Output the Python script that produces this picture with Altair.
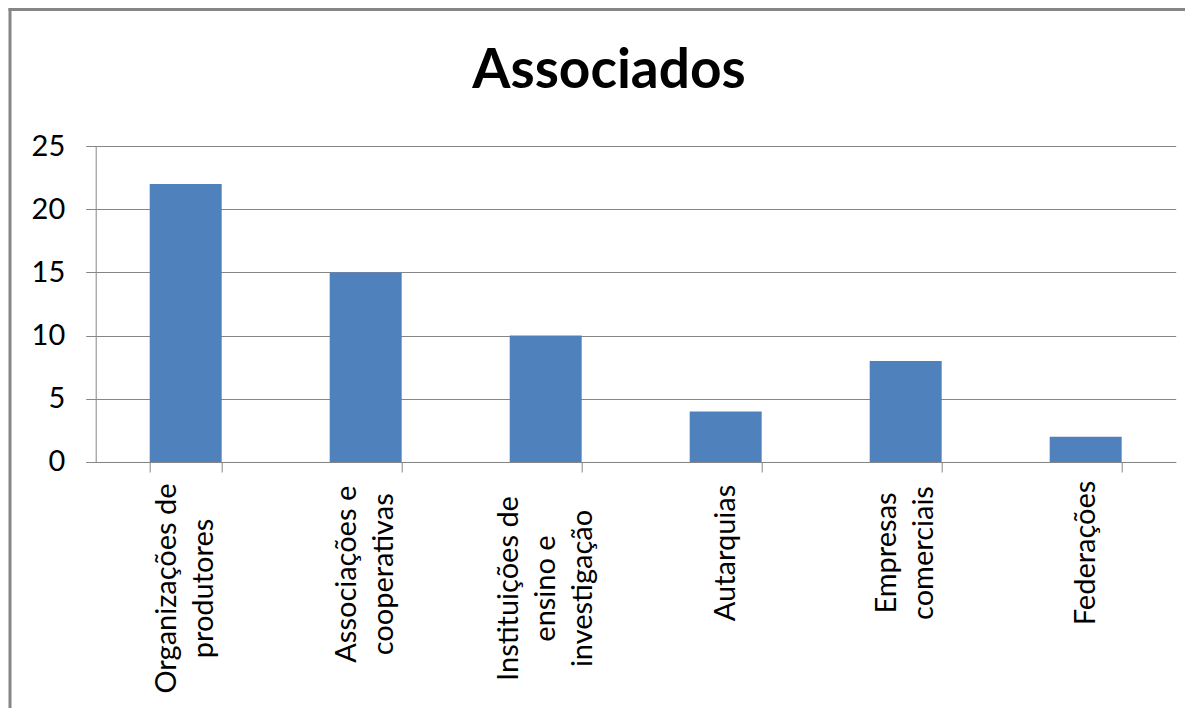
import altair as alt
import pandas as pd

# ---------------- data ----------------
title_text = "Associados"
categories = [
    "Organizações de produtores",
    "Associações e cooperativas",
    "Instituições de ensino e investigação",
    "Autarquias",
    "Empresas comerciais",
    "Federações",
]
label_lines = [
    ["Organizações de", "produtores"],
    ["Associações e", "cooperativas"],
    ["Instituições de", "ensino e", "investigação"],
    ["Autarquias"],
    ["Empresas", "comerciais"],
    ["Federações"],
]
values = [22, 15, 10, 4, 8, 2]
y_ticks = [0, 5, 10, 15, 20, 25]

# ---------------- style ----------------
W, H = 1080, 316
PAD_L, PAD_T, PAD_R, PAD_B = 87.7, 138, 9, 246
FONT = "Lato"
GRAY = "#868686"
BAR = "#4F81BD"
LH = 37

df = pd.DataFrame({
    "categoria": categories,
    "valor": values,
    "rotulo": ["|".join(l) for l in label_lines],
    "maxlen": [max(len(s) for s in l) for l in label_lines],
    "nlinhas": [len(l) for l in label_lines],
})

x_scale = alt.Scale(paddingInner=0.6, paddingOuter=0.3)

bars = alt.Chart(df).mark_bar(color=BAR).encode(
    x=alt.X("categoria:N", sort=categories, scale=x_scale,
            axis=alt.Axis(title=None, labels=False, tickBand="extent", tickSize=10,
                          tickColor=GRAY, domainColor=GRAY, grid=False)),
    y=alt.Y("valor:Q", scale=alt.Scale(domain=[0, 25], nice=False),
            axis=alt.Axis(title=None, values=y_ticks, grid=True, gridColor=GRAY,
                          gridWidth=1, tickSize=10, tickColor=GRAY, domainColor=GRAY,
                          labelFont=FONT, labelFontSize=29, labelColor="black",
                          labelPadding=21)),
)

labels = alt.Chart(df).transform_calculate(
    linhas="split(datum.rotulo, '|')",
    ypix=f"{H} + 20 + 7.1 * datum.maxlen",
).mark_text(angle=270, align="center", baseline="middle", font=FONT,
            fontSize=29, lineHeight=LH, color="black",
            dy=alt.ExprRef(f"-(datum.nlinhas - 1) * {LH / 2}")).encode(
    x=alt.X("categoria:N", sort=categories),
    y=alt.Y("ypix:Q", scale=None, axis=None),
    text="linhas:N",
)

frame_src = pd.DataFrame({"f": [0]})
frame_top = alt.Chart(frame_src).mark_rule(color=GRAY, strokeWidth=3).encode(
    x=alt.value(-87.2), x2=alt.value(W + PAD_R + 10),
    y=alt.value(-136.5),
)
frame_left = alt.Chart(frame_src).mark_rule(color=GRAY, strokeWidth=3).encode(
    x=alt.value(-85.7),
    y=alt.value(-138), y2=alt.value(H + PAD_B + 10),
)

title_mark = alt.Chart(pd.DataFrame({"t": [title_text]})).mark_text(
    font=FONT, fontSize=55, fontWeight="bold", baseline="alphabetic",
    align="center", color="black"
).encode(
    text="t:N",
    x=alt.value(609 - 95.7),
    y=alt.value(88 - 146),
)

chart = alt.layer(frame_top, frame_left, bars, labels, title_mark).resolve_scale(
    y="independent"
).properties(
    width=W, height=H,
    autosize=alt.AutoSizeParams(type="none"),
    padding={"left": PAD_L, "top": PAD_T, "right": PAD_R, "bottom": PAD_B},
    background="white",
).configure_view(strokeWidth=0)

chart.save("out.html", embed_options={"renderer": "svg", "actions": False})
